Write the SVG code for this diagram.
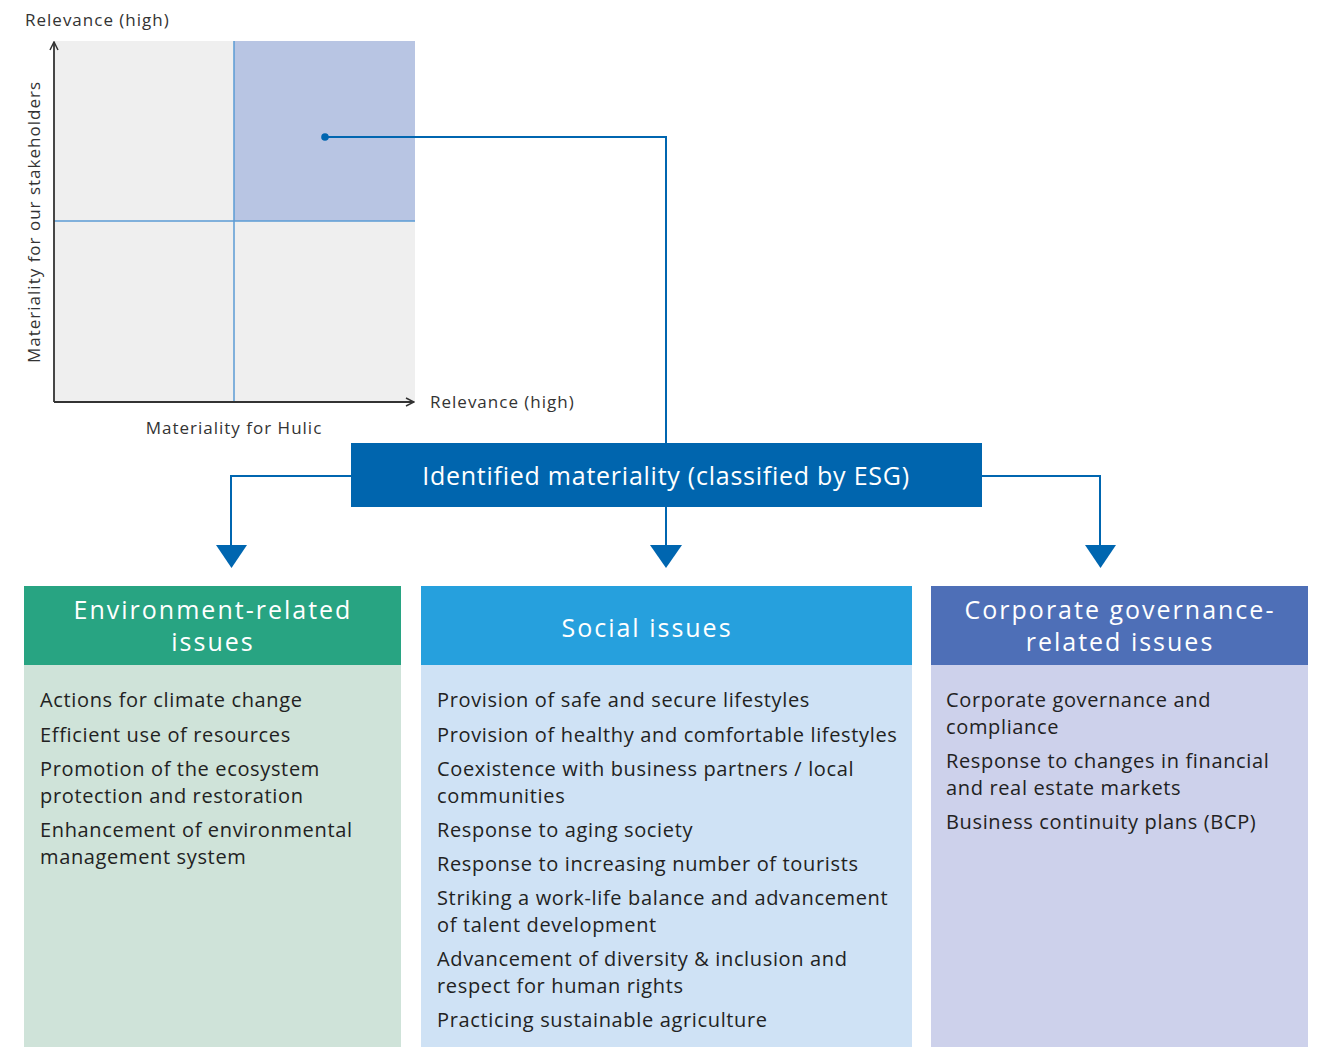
<svg xmlns="http://www.w3.org/2000/svg" width="1323" height="1047" viewBox="0 0 1323 1047">
<defs>
<style>
text{font-family:"Open Sans","Noto Sans","Liberation Sans",sans-serif;}
.ax{font-size:17px;fill:#333;letter-spacing:1px;}
.body{font-size:20px;fill:#222;letter-spacing:0.65px;}
.hd{font-size:25px;fill:#fff;text-anchor:middle;letter-spacing:2px;}
.conn{fill:none;stroke:#0066b0;stroke-width:2;}
.axis{fill:none;stroke:#333;stroke-width:1.8;}
</style>
<marker id="open" viewBox="0 0 10 10" refX="9" refY="5" markerWidth="10" markerHeight="10" markerUnits="userSpaceOnUse" orient="auto">
<path d="M1,1 L9,5 L1,9" fill="none" stroke="#333" stroke-width="1.5"/>
</marker>
</defs>
<rect width="1323" height="1047" fill="#fff"/>
<g id="matrix">
<rect x="54" y="41" width="361" height="361" fill="#efefef"/>
<rect x="234" y="41" width="181" height="180" fill="#b8c5e3"/>
<line x1="234" y1="41" x2="234" y2="402" stroke="#5b9bd5" stroke-width="1.5"/>
<line x1="54" y1="221" x2="415" y2="221" stroke="#5b9bd5" stroke-width="1.5"/>
<line class="axis" x1="54" y1="402" x2="54" y2="42" marker-end="url(#open)"/>
<line class="axis" x1="54" y1="402" x2="414" y2="402" marker-end="url(#open)"/>
<text class="ax" x="25" y="26">Relevance (high)</text>
<text class="ax" x="430" y="408">Relevance (high)</text>
<text class="ax" x="234" y="434" text-anchor="middle">Materiality for Hulic</text>
<text class="ax" transform="translate(40,222) rotate(-90)" text-anchor="middle">Materiality for our stakeholders</text>
<circle cx="325" cy="137" r="3.8" fill="#0066b0"/>
</g>
<g id="connectors">
<polyline class="conn" points="325,137 666,137 666,443"/>
<polyline class="conn" points="351,476 231,476 231,548"/>
<line class="conn" x1="666" y1="507" x2="666" y2="548"/>
<polyline class="conn" points="982,476 1100,476 1100,548"/>
<polygon points="216,545 247,545 231.5,568" fill="#0066b0"/>
<polygon points="650,545 682,545 666,568" fill="#0066b0"/>
<polygon points="1085,545 1116,545 1100.5,568" fill="#0066b0"/>
</g>
<g id="identified">
<rect x="351" y="443" width="631" height="64" fill="#0065ae"/>
<text x="666" y="485" text-anchor="middle" style="font-size:25px;fill:#fff;letter-spacing:0.75px">Identified materiality (classified by ESG)</text>
</g>
<g id="environment">
<rect x="24" y="586" width="377" height="79" fill="#28a482"/>
<rect x="24" y="665" width="377" height="382" fill="#cfe3d9"/>
<text class="hd" x="213" y="619">Environment-related</text>
<text class="hd" x="213" y="651">issues</text>
<g class="body">
<text x="40" y="707">Actions for climate change</text>
<text x="40" y="742">Efficient use of resources</text>
<text x="40" y="776">Promotion of the ecosystem</text>
<text x="40" y="803">protection and restoration</text>
<text x="40" y="837">Enhancement of environmental</text>
<text x="40" y="864">management system</text>
</g>
</g>
<g id="social">
<rect x="421" y="586" width="491" height="79" fill="#26a0dd"/>
<rect x="421" y="665" width="491" height="382" fill="#cfe2f5"/>
<text class="hd" x="647" y="637">Social issues</text>
<g class="body">
<text x="437" y="707">Provision of safe and secure lifestyles</text>
<text x="437" y="742">Provision of healthy and comfortable lifestyles</text>
<text x="437" y="776">Coexistence with business partners / local</text>
<text x="437" y="803">communities</text>
<text x="437" y="837">Response to aging society</text>
<text x="437" y="871">Response to increasing number of tourists</text>
<text x="437" y="905">Striking a work-life balance and advancement</text>
<text x="437" y="932">of talent development</text>
<text x="437" y="966">Advancement of diversity &amp; inclusion and</text>
<text x="437" y="993">respect for human rights</text>
<text x="437" y="1027">Practicing sustainable agriculture</text>
</g>
</g>
<g id="governance">
<rect x="931" y="586" width="377" height="79" fill="#4e6fb7"/>
<rect x="931" y="665" width="377" height="382" fill="#cdd1eb"/>
<text class="hd" x="1120" y="619">Corporate governance-</text>
<text class="hd" x="1120" y="651">related issues</text>
<g class="body">
<text x="946" y="707">Corporate governance and</text>
<text x="946" y="734">compliance</text>
<text x="946" y="768">Response to changes in financial</text>
<text x="946" y="795">and real estate markets</text>
<text x="946" y="829">Business continuity plans (BCP)</text>
</g>
</g>
</svg>
